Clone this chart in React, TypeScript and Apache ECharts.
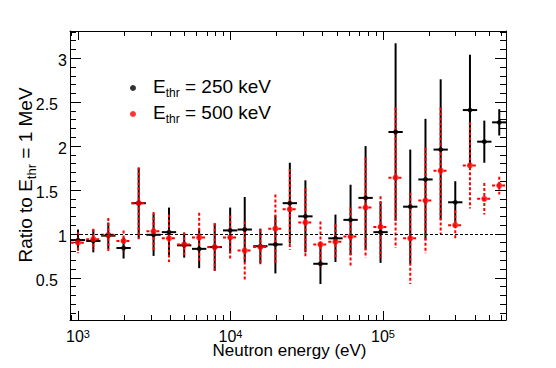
import React, { useEffect, useRef } from "react";
import * as echarts from "echarts";

// Bin centres (eV)
const ENERGY_EV = [
  1000, 1260, 1580, 1990, 2500, 3130, 3950, 4970, 6230, 7880,
  9950, 12400, 15700, 19700, 24500, 31000, 38900, 48800, 61300, 76900,
  96400, 121000, 151000, 190000, 239000, 298000, 372000, 462000, 579000,
];
// half bin width, in decades of energy
const BIN_HALF_WIDTH_DEC = 0.047;

const RATIO_250 = [
  0.93, 0.92, 0.98, 0.84, 1.35, 0.99, 1.02, 0.87, 0.83, 0.85,
  1.04, 1.05, 0.86, 0.88, 1.35, 1.2, 0.66, 0.95, 1.16, 1.41,
  1.02, 2.16, 1.31, 1.62, 1.96, 1.36, 2.41, 2.05, 2.27,
];
const ERR_250 = [
  0.12, 0.13, 0.15, 0.12, 0.4, 0.24, 0.28, 0.14, 0.22, 0.27,
  0.26, 0.37, 0.2, 0.33, 0.46, 0.41, 0.23, 0.27, 0.4, 0.59,
  0.35, 1.01, 0.65, 0.69, 0.8, 0.24, 0.63, 0.24, 0.15,
];
const RATIO_500 = [
  0.9, 0.94, 0.99, 0.92, 1.35, 1.03, 0.95, 0.88, 0.96, 0.85,
  0.96, 0.81, 0.85, 1.06, 1.28, 1.13, 0.88, 0.91, 0.97, 1.3,
  1.08, 1.64, 0.95, 1.38, 1.72, 1.1, 1.78, 1.4, 1.55,
];
const ERR_500 = [
  0.12, 0.12, 0.19, 0.12, 0.41, 0.22, 0.27, 0.14, 0.28, 0.27,
  0.25, 0.33, 0.2, 0.39, 0.46, 0.39, 0.26, 0.2, 0.33, 0.57,
  0.35, 0.8, 0.52, 0.6, 0.72, 0.17, 0.49, 0.18, 0.1,
];

// Axis ranges and ticks
const X_MIN_EV = 886;
const X_MAX_EV = 641000;
const X_MAJOR_EV = [1000, 10000, 100000];
const X_MINOR_EV = [
  900, 2000, 3000, 4000, 5000, 6000, 7000, 8000, 9000,
  20000, 30000, 40000, 50000, 60000, 70000, 80000, 90000,
  200000, 300000, 400000, 500000, 600000,
];
const Y_MIN = 0.02;
const Y_MAX = 3.31;
const Y_MAJOR = [0.5, 1, 1.5, 2, 2.5, 3];
const Y_MINOR = [
  0.1, 0.2, 0.3, 0.4, 0.6, 0.7, 0.8, 0.9, 1.1, 1.2, 1.3, 1.4,
  1.6, 1.7, 1.8, 1.9, 2.1, 2.2, 2.3, 2.4, 2.6, 2.7, 2.8, 2.9,
  3.1, 3.2, 3.3,
];
const REFERENCE_RATIO = 1;

const SERIES_NAMES = ["E250", "E500"];
const LEGEND_TEXT: Record<string, string> = { E250: " = 250 keV", E500: " = 500 keV" };

const FONT = '"Liberation Sans", Arial, Helvetica, sans-serif';
const lg = (v: number) => Math.log10(v);
const GRID_BOX = { left: 70, right: 50, top: 31, bottom: 48, containLabel: false, outerBoundsMode: "none" };

function errorSeries(values: number[], errs: number[], color: string, dash: number[] | null) {
  return {
    type: "custom",
    xAxisIndex: 0,
    yAxisIndex: 0,
    silent: true,
    z: 2,
    clip: true,
    encode: { x: 0, y: 1 },
    data: ENERGY_EV.map((e, i) => [lg(e), values[i], errs[i]]),
    renderItem: (_params: any, api: any) => {
      const x = api.value(0);
      const y = api.value(1);
      const err = api.value(2);
      const top = api.coord([x, y + err]);
      const bot = api.coord([x, y - err]);
      const l = api.coord([x - BIN_HALF_WIDTH_DEC, y]);
      const r = api.coord([x + BIN_HALF_WIDTH_DEC, y]);
      const style: any = { stroke: color, lineWidth: 2, fill: null };
      if (dash) style.lineDash = dash;
      return {
        type: "group",
        children: [
          { type: "line", shape: { x1: top[0], y1: top[1], x2: bot[0], y2: bot[1] }, style },
          { type: "line", shape: { x1: l[0], y1: l[1], x2: r[0], y2: r[1] }, style },
        ],
      };
    },
  };
}

function xAxis(grid: number, position: "bottom" | "top", values: number[], len: number, labels: boolean, line: boolean) {
  return {
    type: "value",
    gridIndex: grid,
    position,
    min: lg(X_MIN_EV),
    max: lg(X_MAX_EV),
    axisLine: { show: line, onZero: false, lineStyle: { color: "#000", width: 1 } },
    axisTick: {
      show: true,
      inside: true,
      length: len,
      customValues: values.map(lg),
      lineStyle: { color: "#000", width: 1 },
    },
    axisLabel: labels
      ? {
          show: true,
          customValues: values.map(lg),
          margin: 8,
          color: "#000",
          fontFamily: FONT,
          formatter: (v: number) => `{b|10}{s|${Math.round(v)}}`,
          rich: {
            b: { fontSize: 16, lineHeight: 12, fontFamily: FONT, color: "#000", padding: [4, 0, 0, 0] },
            s: { fontSize: 11, lineHeight: 10, fontFamily: FONT, color: "#000", verticalAlign: "top" },
          },
        }
      : { show: false },
    splitLine: { show: false },
    minorTick: { show: false },
  };
}

function yAxis(grid: number, position: "left" | "right", values: number[], len: number, labels: boolean, line: boolean) {
  return {
    type: "value",
    gridIndex: grid,
    position,
    min: Y_MIN,
    max: Y_MAX,
    axisLine: { show: line, onZero: false, lineStyle: { color: "#000", width: 1 } },
    axisTick: {
      show: true,
      inside: true,
      length: len,
      customValues: values,
      lineStyle: { color: "#000", width: 1 },
    },
    axisLabel: labels
      ? {
          show: true,
          customValues: values,
          margin: 3,
          padding: [5, 0, 0, 0],
          formatter: (v: number) => (Number.isInteger(v) ? `{i|${v}}` : `{h|${v}}`),
          rich: {
            i: { fontSize: 16, fontFamily: FONT, color: "#000" },
            h: { fontSize: 16, fontFamily: FONT, color: "#000", padding: [0, 9, 0, 0] },
          },
        }
      : { show: false },
    splitLine: { show: false },
    minorTick: { show: false },
  };
}

export default function App() {
  const ref = useRef<HTMLDivElement>(null);
  useEffect(() => {
    if (!ref.current) return;
    const chart = echarts.init(ref.current, null, { renderer: "svg" });
    const sub = { fontSize: 12, fontFamily: FONT, color: "#000", verticalAlign: "bottom" };
    chart.setOption({
      animation: false,
      backgroundColor: "#fff",
      grid: [{ ...GRID_BOX }, { ...GRID_BOX }],
      xAxis: [
        xAxis(0, "bottom", X_MAJOR_EV, 9, true, true),
        xAxis(0, "top", X_MAJOR_EV, 9, false, true),
        xAxis(1, "bottom", X_MINOR_EV, 5, false, false),
        xAxis(1, "top", X_MINOR_EV, 5, false, false),
      ],
      yAxis: [
        yAxis(0, "left", Y_MAJOR, 11, true, true),
        yAxis(0, "right", Y_MAJOR, 11, false, true),
        yAxis(1, "left", Y_MINOR, 6, false, false),
        yAxis(1, "right", Y_MINOR, 6, false, false),
      ],
      legend: {
        show: true,
        orient: "vertical",
        left: 130,
        top: 77,
        padding: 0,
        itemGap: 4,
        itemWidth: 6,
        itemHeight: 6,
        selectedMode: false,
        data: [
          { name: SERIES_NAMES[0], icon: "circle", itemStyle: { color: "#000" } },
          { name: SERIES_NAMES[1], icon: "circle", itemStyle: { color: "#ff0000" } },
        ],
        formatter: (name: string) => `{e|E}{s|thr}{a|${LEGEND_TEXT[name]}}`,
        textStyle: {
          fontFamily: FONT,
          color: "#000",
          rich: {
            e: { fontSize: 19, fontFamily: FONT, color: "#000", padding: [0, 0, 3, 12] },
            a: { fontSize: 19, fontFamily: FONT, color: "#000", padding: [0, 0, 3, 0] },
            s: sub,
          },
        },
      },
      graphic: [
        {
          type: "text",
          x: 289.5,
          y: 350,
          silent: true,
          style: {
            text: "Neutron energy (eV)",
            fontSize: 17,
            lineHeight: 14,
            fontFamily: FONT,
            fill: "#000",
            align: "center",
            verticalAlign: "middle",
          },
        },
        {
          type: "text",
          x: 27,
          y: 175,
          rotation: Math.PI / 2,
          silent: true,
          style: {
            text: "{a|Ratio to E}{s|thr}{a| = 1 MeV}",
            fontSize: 19,
            fontFamily: FONT,
            fill: "#000",
            align: "center",
            verticalAlign: "middle",
            rich: {
              a: { fontSize: 19, fontFamily: FONT, fill: "#000", padding: [0, 0, 3, 0] },
              s: { fontSize: 13, fontFamily: FONT, fill: "#000", verticalAlign: "bottom" },
            },
          },
        },
      ],
      series: [
        errorSeries(RATIO_250, ERR_250, "#000", null),
        {
          name: SERIES_NAMES[0],
          type: "scatter",
          xAxisIndex: 0,
          yAxisIndex: 0,
          z: 2,
          silent: true,
          symbol: "circle",
          symbolSize: 5,
          itemStyle: { color: "#000" },
          data: ENERGY_EV.map((e, i) => [lg(e), RATIO_250[i]]),
          markLine: {
            silent: true,
            symbol: ["none", "none"],
            label: { show: false },
            lineStyle: { color: "#000", width: 1, type: [3, 2] },
            data: [{ yAxis: REFERENCE_RATIO }],
          },
        },
        errorSeries(RATIO_500, ERR_500, "#ff0000", [3, 2]),
        {
          name: SERIES_NAMES[1],
          type: "scatter",
          xAxisIndex: 0,
          yAxisIndex: 0,
          z: 2,
          silent: true,
          symbol: "circle",
          symbolSize: 6,
          itemStyle: { color: "#ff0000" },
          data: ENERGY_EV.map((e, i) => [lg(e), RATIO_500[i]]),
        },
      ],
    });
    return () => chart.dispose();
  }, []);
  return (
    <div
      ref={ref}
      style={{ position: "fixed", left: 0, top: 0, width: 556, height: 368, background: "#fff" }}
    />
  );
}
